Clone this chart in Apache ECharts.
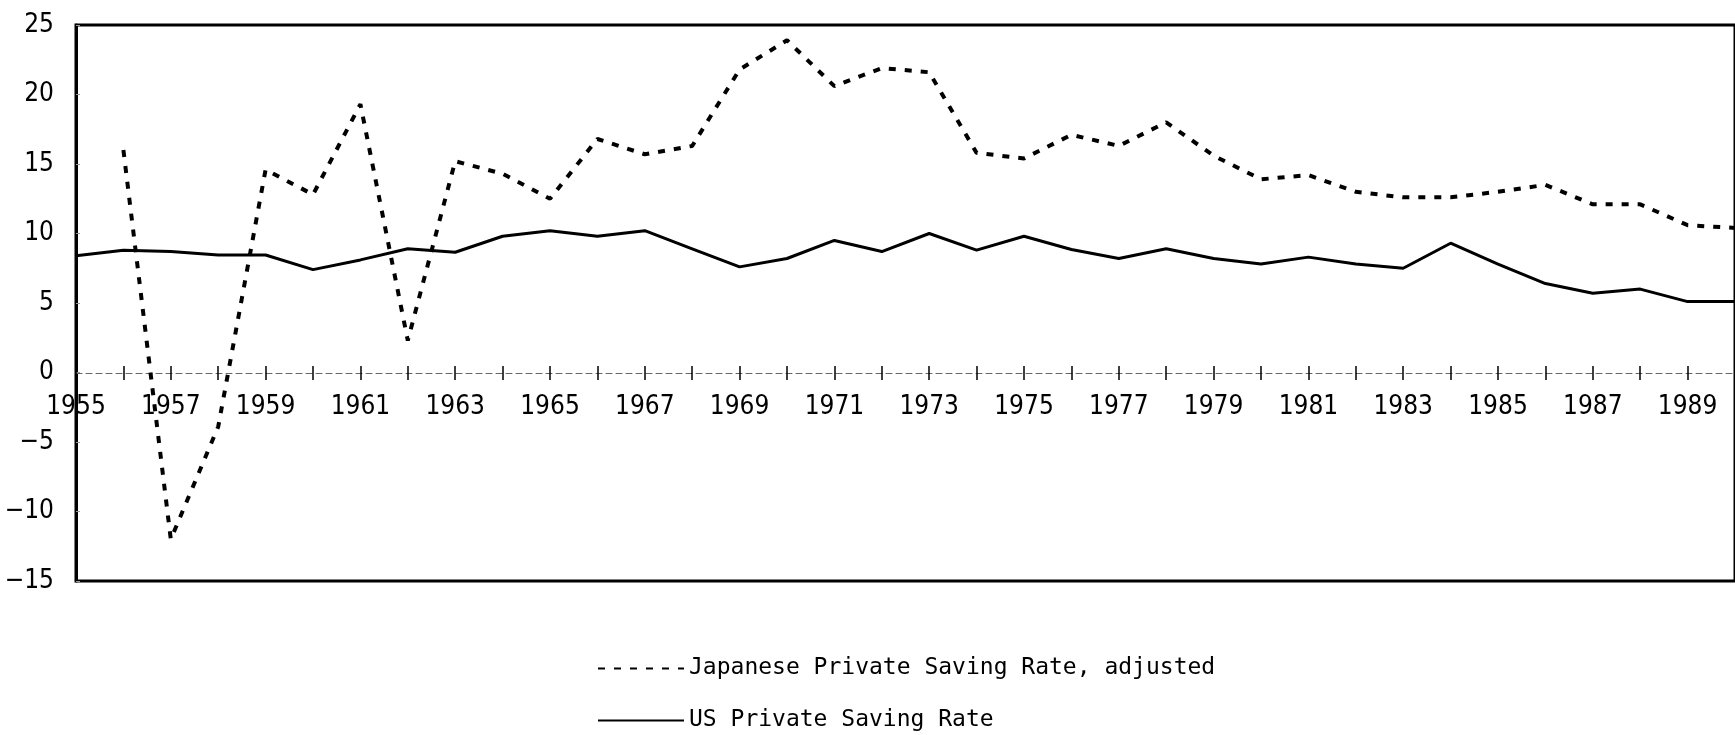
<!DOCTYPE html>
<html>
<head>
<meta charset="utf-8">
<script src="https://cdn.jsdelivr.net/npm/echarts@6/dist/echarts.min.js"></script>
<style>
html,body{margin:0;padding:0;background:#fff;}
#chart{width:1735px;height:735px;}
</style>
</head>
<body>
<div id="chart"></div>
<script>
const years = [];
for (let y = 1955; y <= 1990; y++) years.push(String(y));

const japanRate = [null, 16.0, -12.0, -3.9, 14.6, 12.8, 19.3, 2.3, 15.2, 14.3,
  12.5, 16.8, 15.7, 16.3, 21.8, 23.9, 20.6, 21.9, 21.6, 15.8,
  15.4, 17.1, 16.3, 18.0, 15.6, 13.9, 14.2, 13.0, 12.6, 12.6,
  13.0, 13.5, 12.1, 12.1, 10.6, 10.4];

const usRate = [8.4, 8.8, 8.7, 8.45, 8.45, 7.4, 8.1, 8.9, 8.65, 9.8,
  10.2, 9.8, 10.2, 8.9, 7.6, 8.2, 9.5, 8.7, 10.0, 8.8,
  9.8, 8.85, 8.2, 8.9, 8.2, 7.8, 8.3, 7.8, 7.5, 9.3,
  7.8, 6.4, 5.7, 6.0, 5.1, 5.1];

const seriesNames = ['Japanese Private Saving Rate, adjusted', 'US Private Saving Rate'];

const chart = echarts.init(document.getElementById('chart'), null, {renderer: 'canvas'});
const labelFont = "'DejaVu Sans Condensed', 'Liberation Sans', Arial, sans-serif";

chart.setOption({
  animation: false,
  backgroundColor: '#fff',
  grid: {
    left: 76, right: -14, top: 25, bottom: 154,
    show: true, borderColor: '#000', borderWidth: 3, backgroundColor: 'transparent'
  },
  legend: {
    orient: 'vertical',
    left: 597, top: 657, bottom: 0,
    padding: 0,
    itemWidth: 86, itemHeight: 20, itemGap: 29,
    itemStyle: {color: 'rgba(0,0,0,0)', borderWidth: 0, opacity: 0},
    lineStyle: {width: 2},
    textStyle: {fontFamily: "'DejaVu Sans Mono', 'Liberation Mono', monospace", fontSize: 23, color: '#000'},
    data: [seriesNames[0], seriesNames[1]]
  },
  xAxis: [{
    type: 'category',
    data: years,
    boundaryGap: false,
    offset: -208,
    axisLine: {onZero: false, lineStyle: {color: '#666', width: 1, type: [6, 4]}},
    axisTick: {show: true, interval: 0, length: 7, lineStyle: {color: '#000', width: 1.5}},
    axisLabel: {interval: 1, margin: 21, color: '#000', fontSize: 26, fontFamily: labelFont},
    splitLine: {show: false}
  }, {
    type: 'category',
    data: years,
    boundaryGap: false,
    position: 'bottom',
    offset: -208,
    axisLine: {show: false, onZero: false},
    axisTick: {show: true, inside: true, interval: 0, length: 7, lineStyle: {color: '#000', width: 1.5}},
    axisLabel: {show: false},
    splitLine: {show: false}
  }],
  yAxis: {
    type: 'value',
    min: -15, max: 25, interval: 5,
    axisLine: {show: true, lineStyle: {color: '#000', width: 3}},
    axisTick: {show: true, inside: true, length: 4, lineStyle: {color: '#999', width: 1}},
    axisLabel: {
      margin: 22, color: '#000', fontSize: 26, fontFamily: labelFont,
      formatter: v => String(v).replace('-', '\u2212')
    },
    splitLine: {show: false}
  },
  series: [{
    name: seriesNames[0],
    type: 'line',
    data: japanRate,
    xAxisIndex: 0,
    symbol: 'none',
    lineStyle: {color: '#000', width: 4, type: [7, 9]},
    itemStyle: {color: '#000'}
  }, {
    name: seriesNames[1],
    type: 'line',
    data: usRate,
    xAxisIndex: 0,
    symbol: 'none',
    lineStyle: {color: '#000', width: 3},
    itemStyle: {color: '#000'}
  }]
});
</script>
</body>
</html>
